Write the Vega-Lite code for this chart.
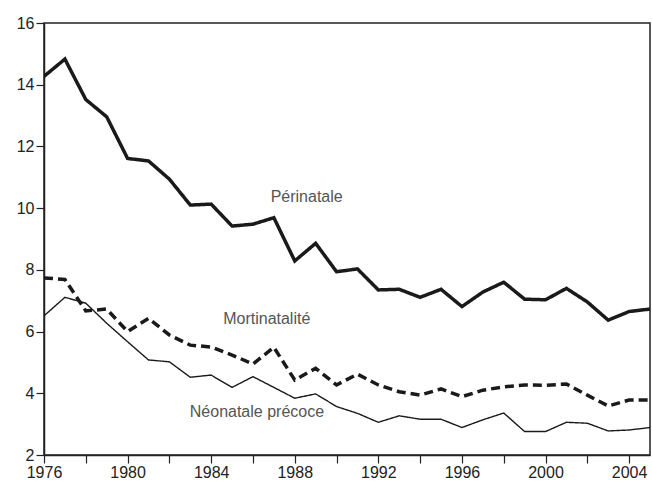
{
  "$schema": "https://vega.github.io/schema/vega-lite/v6.json",
  "width": 606,
  "height": 432,
  "autosize": {"type": "none"},
  "padding": {"left": 44, "top": 23, "right": 2, "bottom": 28},
  "background": "white",
  "config": {
    "view": {"stroke": "#222", "strokeWidth": 1.5},
    "axis": {
      "domainColor": "#222", "domainWidth": 1.5, "tickColor": "#222", "tickWidth": 1.2,
      "tickSize": 8, "labelFont": "Liberation Sans", "labelFontSize": 16, "labelColor": "#222",
      "grid": false, "title": null, "labelPadding": 2
    }
  },
  "datasets": {
    "series": [
      {"year":1976,"series":"Périnatale","value":14.27},{"year":1977,"series":"Périnatale","value":14.83},{"year":1978,"series":"Périnatale","value":13.52},{"year":1979,"series":"Périnatale","value":12.96},{"year":1980,"series":"Périnatale","value":11.61},{"year":1981,"series":"Périnatale","value":11.53},{"year":1982,"series":"Périnatale","value":10.94},{"year":1983,"series":"Périnatale","value":10.1},{"year":1984,"series":"Périnatale","value":10.13},{"year":1985,"series":"Périnatale","value":9.42},{"year":1986,"series":"Périnatale","value":9.48},{"year":1987,"series":"Périnatale","value":9.69},{"year":1988,"series":"Périnatale","value":8.29},{"year":1989,"series":"Périnatale","value":8.86},{"year":1990,"series":"Périnatale","value":7.94},{"year":1991,"series":"Périnatale","value":8.03},{"year":1992,"series":"Périnatale","value":7.35},{"year":1993,"series":"Périnatale","value":7.37},{"year":1994,"series":"Périnatale","value":7.11},{"year":1995,"series":"Périnatale","value":7.37},{"year":1996,"series":"Périnatale","value":6.81},{"year":1997,"series":"Périnatale","value":7.28},{"year":1998,"series":"Périnatale","value":7.6},{"year":1999,"series":"Périnatale","value":7.05},{"year":2000,"series":"Périnatale","value":7.03},{"year":2001,"series":"Périnatale","value":7.4},{"year":2002,"series":"Périnatale","value":6.96},{"year":2003,"series":"Périnatale","value":6.37},{"year":2004,"series":"Périnatale","value":6.65},{"year":2005,"series":"Périnatale","value":6.73},
      {"year":1976,"series":"Mortinatalité","value":7.74},{"year":1977,"series":"Mortinatalité","value":7.69},{"year":1978,"series":"Mortinatalité","value":6.67},{"year":1979,"series":"Mortinatalité","value":6.73},{"year":1980,"series":"Mortinatalité","value":6.0},{"year":1981,"series":"Mortinatalité","value":6.43},{"year":1982,"series":"Mortinatalité","value":5.89},{"year":1983,"series":"Mortinatalité","value":5.56},{"year":1984,"series":"Mortinatalité","value":5.5},{"year":1985,"series":"Mortinatalité","value":5.24},{"year":1986,"series":"Mortinatalité","value":4.95},{"year":1987,"series":"Mortinatalité","value":5.49},{"year":1988,"series":"Mortinatalité","value":4.43},{"year":1989,"series":"Mortinatalité","value":4.81},{"year":1990,"series":"Mortinatalité","value":4.27},{"year":1991,"series":"Mortinatalité","value":4.62},{"year":1992,"series":"Mortinatalité","value":4.27},{"year":1993,"series":"Mortinatalité","value":4.05},{"year":1994,"series":"Mortinatalité","value":3.94},{"year":1995,"series":"Mortinatalité","value":4.14},{"year":1996,"series":"Mortinatalité","value":3.89},{"year":1997,"series":"Mortinatalité","value":4.1},{"year":1998,"series":"Mortinatalité","value":4.21},{"year":1999,"series":"Mortinatalité","value":4.27},{"year":2000,"series":"Mortinatalité","value":4.26},{"year":2001,"series":"Mortinatalité","value":4.3},{"year":2002,"series":"Mortinatalité","value":3.94},{"year":2003,"series":"Mortinatalité","value":3.59},{"year":2004,"series":"Mortinatalité","value":3.78},{"year":2005,"series":"Mortinatalité","value":3.78},
      {"year":1976,"series":"Néonatale précoce","value":6.51},{"year":1977,"series":"Néonatale précoce","value":7.11},{"year":1978,"series":"Néonatale précoce","value":6.92},{"year":1979,"series":"Néonatale précoce","value":6.27},{"year":1980,"series":"Néonatale précoce","value":5.67},{"year":1981,"series":"Néonatale précoce","value":5.08},{"year":1982,"series":"Néonatale précoce","value":5.02},{"year":1983,"series":"Néonatale précoce","value":4.52},{"year":1984,"series":"Néonatale précoce","value":4.59},{"year":1985,"series":"Néonatale précoce","value":4.19},{"year":1986,"series":"Néonatale précoce","value":4.54},{"year":1987,"series":"Néonatale précoce","value":4.19},{"year":1988,"series":"Néonatale précoce","value":3.84},{"year":1989,"series":"Néonatale précoce","value":3.98},{"year":1990,"series":"Néonatale précoce","value":3.57},{"year":1991,"series":"Néonatale précoce","value":3.35},{"year":1992,"series":"Néonatale précoce","value":3.06},{"year":1993,"series":"Néonatale précoce","value":3.27},{"year":1994,"series":"Néonatale précoce","value":3.16},{"year":1995,"series":"Néonatale précoce","value":3.16},{"year":1996,"series":"Néonatale précoce","value":2.89},{"year":1997,"series":"Néonatale précoce","value":3.14},{"year":1998,"series":"Néonatale précoce","value":3.36},{"year":1999,"series":"Néonatale précoce","value":2.76},{"year":2000,"series":"Néonatale précoce","value":2.76},{"year":2001,"series":"Néonatale précoce","value":3.06},{"year":2002,"series":"Néonatale précoce","value":3.03},{"year":2003,"series":"Néonatale précoce","value":2.78},{"year":2004,"series":"Néonatale précoce","value":2.81},{"year":2005,"series":"Néonatale précoce","value":2.89}
    ],
    "labels": [
      {"year":1988.57,"value":10.36,"text":"Périnatale"},
      {"year":1986.66,"value":6.41,"text":"Mortinatalité"},
      {"year":1986.19,"value":3.39,"text":"Néonatale précoce"}
    ]
  },
  "layer": [
    {
      "data": {"name": "series"},
      "mark": {"type": "line", "color": "#1a1a1a", "strokeJoin": "miter", "clip": true},
      "encoding": {
        "x": {"field": "year", "type": "quantitative",
          "scale": {"domain": [1976, 2005], "nice": false, "zero": false},
          "axis": {"values": [1976,1977,1978,1979,1980,1981,1982,1983,1984,1985,1986,1987,1988,1989,1990,1991,1992,1993,1994,1995,1996,1997,1998,1999,2000,2001,2002,2003,2004,2005],
            "labelExpr": "datum.value % 4 == 0 ? format(datum.value, 'd') : ''", "labelFlush": false, "labelOverlap": false, "labelPadding": 1}},
        "y": {"field": "value", "type": "quantitative",
          "scale": {"domain": [2, 16], "nice": false, "zero": false},
          "axis": {"values": [2,3,4,5,6,7,8,9,10,11,12,13,14,15,16],
            "labelExpr": "datum.value % 2 == 0 ? format(datum.value, 'd') : ''", "labelOverlap": false, "labelPadding": 2}},
        "detail": {"field": "series"},
        "strokeWidth": {"field": "series", "type": "nominal", "legend": null,
          "scale": {"type": "ordinal", "domain": ["Périnatale", "Mortinatalité", "Néonatale précoce"], "range": [3.5, 3.5, 1.4]}},
        "strokeDash": {"field": "series", "type": "nominal", "legend": null,
          "scale": {"domain": ["Périnatale", "Mortinatalité", "Néonatale précoce"], "range": [[1, 0], [9, 5], [1, 0]]}}
      }
    },
    {
      "data": {"name": "labels"},
      "mark": {"type": "text", "font": "Liberation Sans", "fontSize": 16, "color": "#555", "align": "center", "baseline": "middle"},
      "encoding": {
        "x": {"field": "year", "type": "quantitative"},
        "y": {"field": "value", "type": "quantitative"},
        "text": {"field": "text"}
      }
    }
  ]
}
